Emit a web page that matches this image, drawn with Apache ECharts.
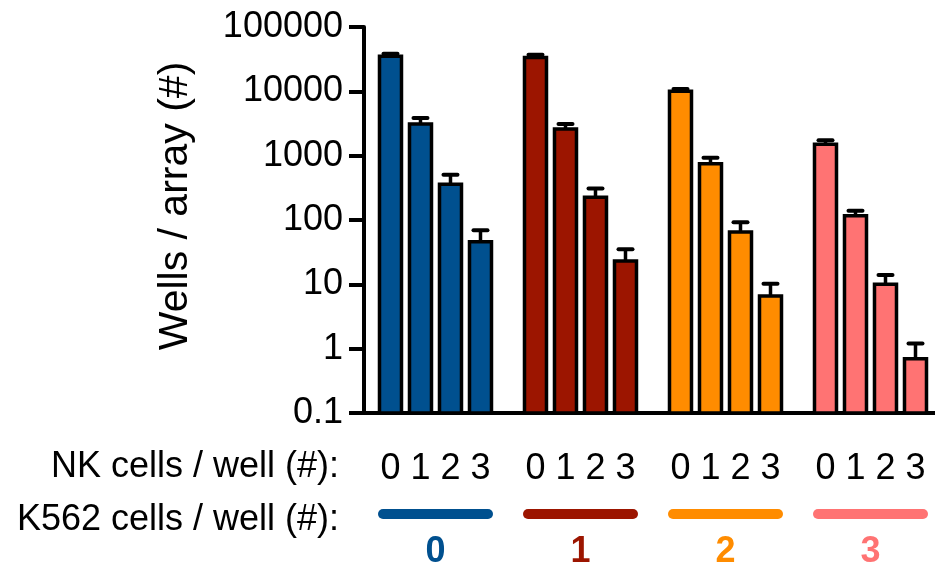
<!DOCTYPE html>
<html><head><meta charset="utf-8">
<script src="https://cdn.jsdelivr.net/npm/echarts@6/dist/echarts.min.js"></script>
<style>html,body{margin:0;padding:0;background:#fff}#c{width:935px;height:564px}</style>
</head><body><div id="c"></div>
<script>
// ---- data ----
const k562Groups = ['0', '1', '2', '3'];          // K562 cells / well
const nkCategories = ['0', '1', '2', '3'];        // NK cells / well
const tickLabels = ['0.1', '1', '10', '100', '1000', '10000', '100000'];
const meanK0 = [35000, 3100, 360, 46];
const meanK1 = [33500, 2600, 225, 23];
const meanK2 = [10000, 750, 65, 6.6];
const meanK3 = [1500, 116, 10, 0.7];
const errK0 = [3500, 750, 145, 23];
const errK1 = [3500, 500, 85, 12];
const errK2 = [850, 180, 27, 3.6];
const errK3 = [230, 23, 4, 0.5];
const groupColors = ['#00508F', '#9C1500', '#FF8C00', '#FF7373'];

const means = [meanK0, meanK1, meanK2, meanK3];
const errs = [errK0, errK1, errK2, errK3];
const GROUP_STEP = 145 / 30;
const Y_MIN = 0.1;
const FONT = '"Liberation Sans", Arial, Helvetica, sans-serif';

const barData = [];
means.forEach((arr, g) => arr.forEach((v, i) => barData.push([g * GROUP_STEP + i, v, v + errs[g][i], g, i])));
const groupData = k562Groups.map((_, g) => [g * GROUP_STEP + 1.5, Y_MIN, g]);

const chart = echarts.init(document.getElementById('c'), null, { renderer: 'canvas' });
chart.setOption({
  backgroundColor: '#fff',
  animation: false,
  grid: { left: 364, right: 0, top: 27, bottom: 151, containLabel: false },
  xAxis: {
    type: 'value', min: -0.883, max: 18.15,
    axisLine: { show: true, onZero: false, lineStyle: { color: '#000', width: 4 } },
    axisTick: { show: false }, axisLabel: { show: false }, splitLine: { show: false }
  },
  yAxis: {
    type: 'log', logBase: 10, min: 0.1, max: 100000, splitNumber: 6,
    axisLine: { show: true, onZero: false, lineStyle: { color: '#000', width: 4 } },
    axisTick: { show: true, length: 15, lineStyle: { color: '#000', width: 4 } },
    axisLabel: {
      fontSize: 36, color: '#000', margin: 21, fontFamily: FONT,
      formatter: v => tickLabels[Math.round(Math.log10(v)) + 1]
    },
    splitLine: { show: false }
  },
  graphic: [
    { type: 'text', x: 176, y: 206, rotation: Math.PI / 2,
      style: { text: 'Wells / array (#)', align: 'center', verticalAlign: 'middle', fontSize: 41, fontFamily: FONT, fill: '#000' } },
    { type: 'text', x: 339, y: 467,
      style: { text: 'NK cells / well (#):', align: 'right', verticalAlign: 'middle', fontSize: 36, fontFamily: FONT, fill: '#000' } },
    { type: 'text', x: 339, y: 520,
      style: { text: 'K562 cells / well (#):', align: 'right', verticalAlign: 'middle', fontSize: 36, fontFamily: FONT, fill: '#000' } }
  ],
  series: [
    {
      type: 'custom', clip: false, encode: { x: 0, y: 1 }, data: barData,
      renderItem: function (params, api) {
        const x = api.value(0), v = api.value(1), up = api.value(2), g = api.value(3), i = api.value(4);
        const top = api.coord([x, v]);
        const base = api.coord([x, Y_MIN]);
        const ep = api.coord([x, up]);
        const w = 22;
        return {
          type: 'group', children: [
            { type: 'line', shape: { x1: top[0], y1: top[1], x2: top[0], y2: ep[1] }, style: { stroke: '#000', lineWidth: 3.5 } },
            { type: 'line', shape: { x1: top[0] - 7, y1: ep[1], x2: top[0] + 7, y2: ep[1] }, style: { stroke: '#000', lineWidth: 4, lineCap: 'round' } },
            { type: 'rect', shape: { x: top[0] - w / 2, y: top[1], width: w, height: base[1] - top[1] },
              style: { fill: groupColors[g], stroke: '#000', lineWidth: 3.5 } },
            { type: 'text', style: { text: nkCategories[i], x: top[0], y: base[1] + 56, align: 'center', verticalAlign: 'middle',
              fontSize: 36, fontFamily: FONT, fill: '#000' } }
          ]
        };
      }
    },
    {
      type: 'custom', clip: false, encode: { x: 0, y: 1 }, data: groupData,
      renderItem: function (params, api) {
        const x = api.value(0), g = api.value(2);
        const c = api.coord([x, Y_MIN]);
        const half = api.coord([x + 1.5, Y_MIN])[0] - c[0];
        return {
          type: 'group', children: [
            { type: 'line', shape: { x1: c[0] - half - 7.5, y1: c[1] + 101, x2: c[0] + half + 7.5, y2: c[1] + 101 },
              style: { stroke: groupColors[g], lineWidth: 10, lineCap: 'round' } },
            { type: 'text', style: { text: k562Groups[g], x: c[0], y: c[1] + 139, align: 'center', verticalAlign: 'middle',
              fontSize: 36, fontWeight: 'bold', fontFamily: FONT, fill: groupColors[g] } }
          ]
        };
      }
    }
  ]
});
</script></body></html>
